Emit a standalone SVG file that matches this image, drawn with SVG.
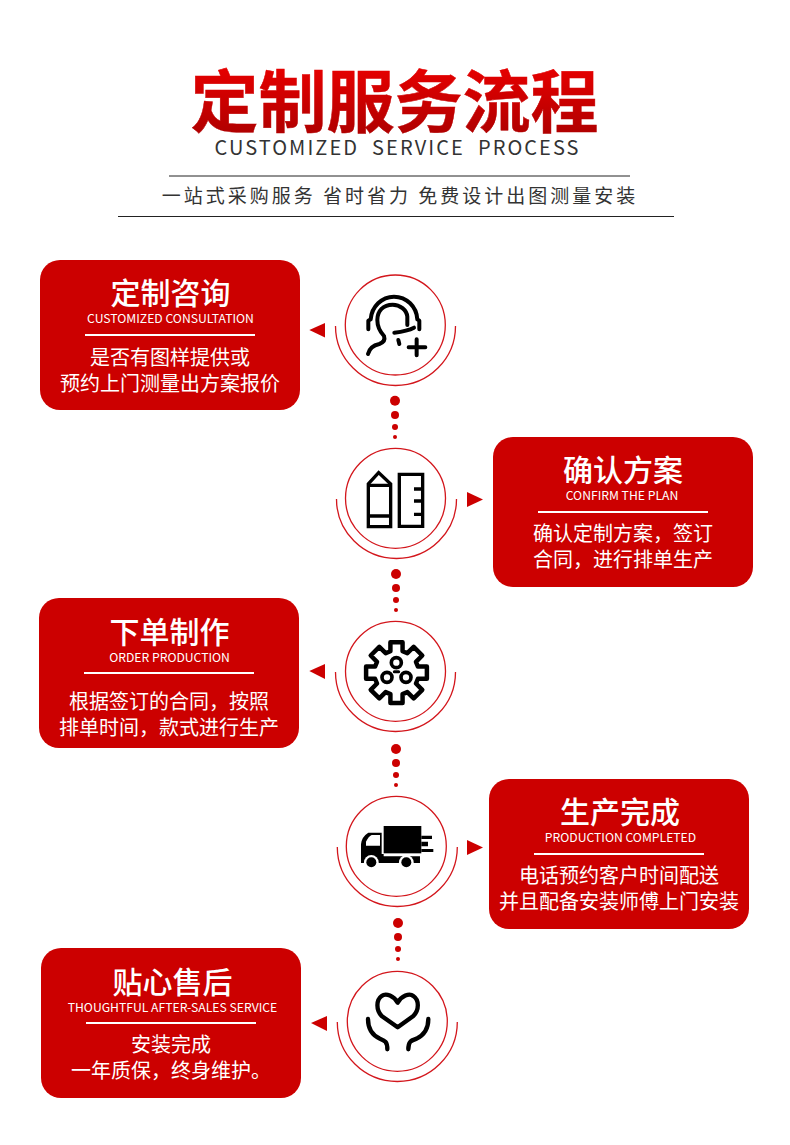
<svg xmlns="http://www.w3.org/2000/svg" width="790" height="1145" viewBox="0 0 790 1145">
<style>
text{font-family:"Noto Sans CJK SC","Noto Sans",sans-serif;text-anchor:middle}
.card{fill:#cc0000}
.t{font-size:30px;fill:#fff;font-weight:500}
.s{font-size:12.200px;fill:#fff;font-weight:400}
.b{font-size:20px;fill:#fff}
.rule{stroke:#fff;stroke-width:2}
.c{fill:none;stroke:#d3161c;stroke-width:1.3}
.dot,.arrow{fill:#cc0000}
.i{fill:none;stroke:#000;stroke-linecap:round;stroke-linejoin:round}
</style>
<defs>
<linearGradient id="tg" x1="0" y1="0" x2="0" y2="1"><stop offset="0" stop-color="#f60000"/><stop offset="1" stop-color="#a50000"/></linearGradient>
</defs>
<rect width="790" height="1145" fill="#fff"/>
<g id="header">
<text x="394.500" y="127" font-size="68" font-weight="700" fill="url(#tg)" stroke="url(#tg)" stroke-width=".5">定制服务流程</text>
<text x="397.500" y="155" font-size="20" fill="#333" letter-spacing="2.050" style="font-weight:400;white-space:pre">CUSTOMIZED  SERVICE  PROCESS</text>
<path d="M169 176H630M118 216.500H674" stroke="#222" stroke-width="1"/>
<text x="400" y="203" font-size="19" fill="#333" font-weight="400" letter-spacing="3">一站式采购服务 省时省力 免费设计出图测量安装</text>
</g>
<g id="connectors">
<path class="arrow" d="M309.300 330L325 323V337.500Z"/>
<path class="arrow" d="M467 492V507L483 499.500Z"/>
<path class="arrow" d="M309.300 671L325 664V679Z"/>
<path class="arrow" d="M467 840V855L483 847.500Z"/>
<path class="arrow" d="M311 1023L327 1016V1031Z"/>
<circle class="dot" cx="395" cy="400.700" r="5"/><circle class="dot" cx="395" cy="415" r="4"/><circle class="dot" cx="395" cy="427" r="3"/><circle class="dot" cx="395" cy="437" r="2"/>
<circle class="dot" cx="396" cy="574" r="5"/><circle class="dot" cx="396" cy="588" r="4"/><circle class="dot" cx="396" cy="600" r="3"/><circle class="dot" cx="396" cy="610" r="2"/>
<circle class="dot" cx="396" cy="749" r="5"/><circle class="dot" cx="396" cy="763" r="4"/><circle class="dot" cx="396" cy="775" r="3"/><circle class="dot" cx="396" cy="785" r="2"/>
<circle class="dot" cx="398" cy="923" r="5"/><circle class="dot" cx="398" cy="937" r="4"/><circle class="dot" cx="398" cy="949" r="3"/><circle class="dot" cx="398" cy="959" r="2"/>
</g>
<g id="icon-consult">
<circle class="c" cx="395.300" cy="325" r="50"/><path class="c" d="M335.500 326A60 59.500 0 0 0 455.500 326"/>
<g transform="translate(300 260) scale(.3333)" class="i" stroke-width="12">
<path d="M205 208V182L212 178C215 140 245 110 282 110C320 110 350 140 352 178L358 182V208"/>
<path d="M322 195V170C320 150 300 134 278 134C250 134 232 152 232 180C232 200 240 215 252 228C256 240 250 248 238 252C220 256 208 265 204 282"/>
<path d="M283 218C300 216 325 212 342 203M295 240L298 252M350 238V286M326 262H376"/>
</g>
</g>
<g id="icon-plan">
<circle class="c" cx="395.500" cy="498.300" r="50"/><path class="c" d="M336.500 499A60 59.500 0 0 0 456.500 499"/>
<g transform="translate(300 440) scale(.3333)" class="i" stroke-width="10" style="stroke-linecap:butt;stroke-linejoin:miter">
<path d="M205 132L236 98L272 132V260H205Z"/><path d="M205 136H272M205 228H272"/>
<path d="M298 103H368V259H298ZM368 147H342M368 183H342M368 223H342"/>
</g>
</g>
<g id="icon-order">
<circle class="c" cx="395.500" cy="671.300" r="50"/><path class="c" d="M335.500 672A60 59.500 0 0 0 455.500 672"/>
<g transform="translate(300 610) scale(.3333)" class="i" stroke-width="14">
<path transform="translate(289.500 188) scale(.96)" d="M-19-67V-95H19V-67L33.900-60.800L53.700-80.600L80.600-53.700L60.800-33.900L67-19H95V19H67L60.800 33.900L80.600 53.700L53.700 80.600L33.900 60.800L19 67V95H-19V67L-33.900 60.800L-53.700 80.600L-80.600 53.700L-60.800 33.900L-67 19H-95V-19H-67L-60.800-33.900L-80.600-53.700L-53.700-80.600L-33.900-60.800Z"/>
<circle cx="289" cy="158" r="15" stroke-width="11"/><circle cx="261" cy="202" r="15" stroke-width="11"/><circle cx="318" cy="202" r="15" stroke-width="11"/><path d="M283 185H296" stroke-width="9"/>
</g>
</g>
<g id="icon-truck">
<circle class="c" cx="396.300" cy="846.300" r="50"/><path class="c" d="M337.300 847A60 59.500 0 0 0 457.300 847"/>
<g transform="translate(300 785) scale(.3333)">
<rect x="251" y="123" width="113" height="82"/>
<path d="M364 152H396V162H364ZM364 170H384V184H364ZM364 192H400V201H364Z"/>
<path d="M183 234V178Q185 155 205 143H245V207H251V214H360V234Z"/>
<path d="M198 182V170Q205 155 215 150H240V182Z" fill="#fff"/>
<circle cx="214" cy="232" r="22" fill="#fff"/><circle cx="319" cy="232" r="22" fill="#fff"/>
<circle cx="214" cy="232" r="15"/><circle cx="319" cy="232" r="15"/>
</g>
</g>
<g id="icon-care">
<circle class="c" cx="397.300" cy="1021.300" r="50"/><path class="c" d="M337.300 1022A60 59.500 0 0 0 457.300 1022"/>
<g transform="translate(300 960) scale(.3333)" class="i" stroke-width="13">
<path d="M293 128C282 108 258 98 245 108C228 120 228 150 245 168L293 202L340 168C358 150 358 120 340 108C328 98 304 108 293 128Z"/>
<path d="M204 177C204 205 215 225 240 236C255 242 262 245 262 268M385 177C385 205 372 225 350 236C332 242 325 245 325 268"/>
</g>
</g>
<g id="card-consult">
<rect class="card" x="40" y="260" width="260" height="150" rx="20"/>
<text class="t" x="170.500" y="304">定制咨询</text><text class="s" x="170.500" y="322.500">CUSTOMIZED CONSULTATION</text>
<path class="rule" d="M85 335H255"/>
<text class="b" x="170" y="365">是否有图样提供或</text><text class="b" x="170" y="391">预约上门测量出方案报价</text>
</g>
<g id="card-plan">
<rect class="card" x="493" y="437" width="260" height="150" rx="20"/>
<text class="t" x="623" y="481">确认方案</text><text class="s" x="622" y="499.500">CONFIRM THE PLAN</text>
<path class="rule" d="M538 512H708"/>
<text class="b" x="623" y="541">确认定制方案，签订</text><text class="b" x="623" y="567">合同，进行排单生产</text>
</g>
<g id="card-order">
<rect class="card" x="39" y="598" width="260" height="150" rx="20"/>
<text class="t" x="169.500" y="643">下单制作</text><text class="s" x="169.500" y="661.500">ORDER PRODUCTION</text>
<path class="rule" d="M84 673H254"/>
<text class="b" x="169" y="709">根据签订的合同，按照</text><text class="b" x="169" y="735">排单时间，款式进行生产</text>
</g>
<g id="card-done">
<rect class="card" x="489" y="779" width="260" height="150" rx="20"/>
<text class="t" x="620" y="823">生产完成</text><text class="s" x="620.500" y="841.500">PRODUCTION COMPLETED</text>
<path class="rule" d="M534 854H704"/>
<text class="b" x="619" y="883">电话预约客户时间配送</text><text class="b" x="619" y="909">并且配备安装师傅上门安装</text>
</g>
<g id="card-care">
<rect class="card" x="41" y="948" width="260" height="150" rx="20"/>
<text class="t" x="172.500" y="993">贴心售后</text><text class="s" x="172.500" y="1011.500">THOUGHTFUL AFTER-SALES SERVICE</text>
<path class="rule" d="M86 1023H256"/>
<text class="b" x="171" y="1052">安装完成</text><text class="b" x="171" y="1078">一年质保，终身维护。</text>
</g>
</svg>
